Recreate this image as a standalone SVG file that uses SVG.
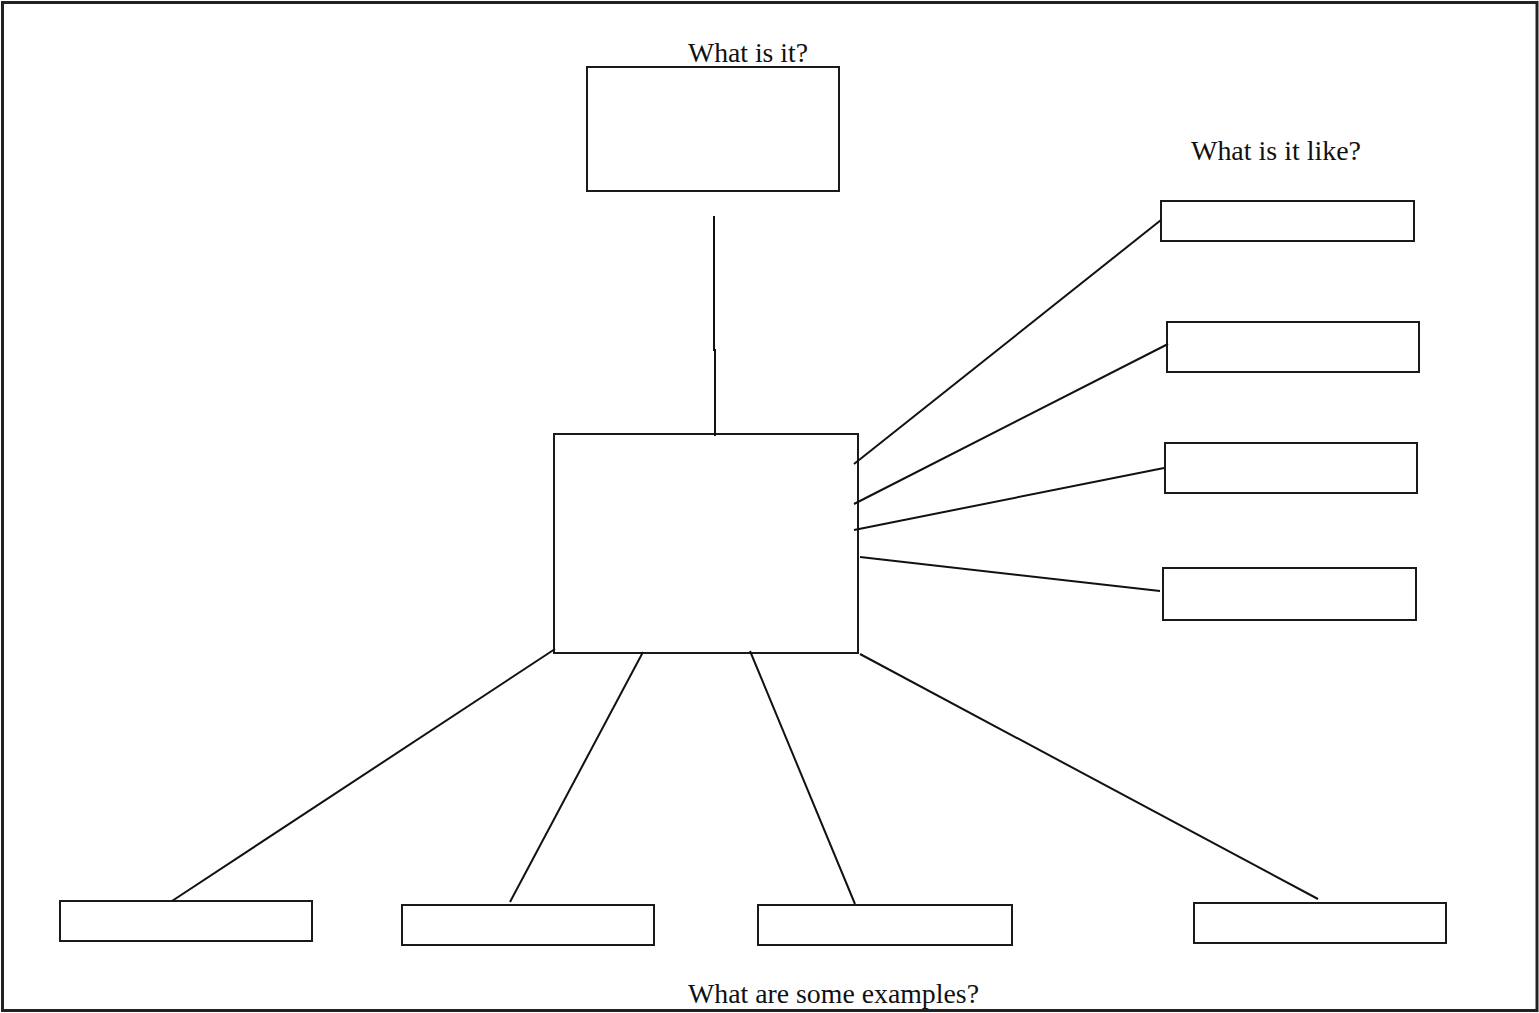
<svg xmlns="http://www.w3.org/2000/svg" width="1539" height="1013" viewBox="0 0 1539 1013">
<style>
.box{fill:#fff;stroke:#1a1a1a;stroke-width:2}
.con line,.con polyline{stroke:#111;stroke-width:2;fill:none}
.lbl{font-family:"Liberation Serif","Times New Roman",serif;font-size:27px;fill:#111}
</style>
<rect x="0" y="0" width="1539" height="1013" fill="#fff"/>
<rect x="2.5" y="2.5" width="1534.5" height="1008" fill="none" stroke="#222" stroke-width="3"/>
<text class="lbl" x="688" y="62" textLength="120" lengthAdjust="spacingAndGlyphs">What is it?</text>
<text class="lbl" x="1191" y="160" textLength="170" lengthAdjust="spacingAndGlyphs">What is it like?</text>
<text class="lbl" x="688" y="1003" textLength="291" lengthAdjust="spacingAndGlyphs">What are some examples?</text>
<g id="node-top"><rect class="box" x="587" y="67" width="252" height="124"/></g>
<g id="node-center"><rect class="box" x="554" y="434" width="304" height="219"/></g>
<g id="node-r1"><rect class="box" x="1161" y="201" width="253" height="40"/></g>
<g id="node-r2"><rect class="box" x="1167" y="322" width="252" height="50"/></g>
<g id="node-r3"><rect class="box" x="1165" y="443" width="252" height="50"/></g>
<g id="node-r4"><rect class="box" x="1163" y="568" width="253" height="52"/></g>
<g id="node-b1"><rect class="box" x="60" y="901" width="252" height="40"/></g>
<g id="node-b2"><rect class="box" x="402" y="905" width="252" height="40"/></g>
<g id="node-b3"><rect class="box" x="758" y="905" width="254" height="40"/></g>
<g id="node-b4"><rect class="box" x="1194" y="903" width="252" height="40"/></g>
<g id="connectors" class="con">
<polyline points="714,216 714,350 715,350 715,436"/>
<line x1="854" y1="464" x2="1161" y2="220"/>
<line x1="854" y1="504" x2="1168" y2="344"/>
<line x1="854" y1="530" x2="1164" y2="468"/>
<line x1="860" y1="557" x2="1160" y2="591"/>
<line x1="555" y1="649" x2="172" y2="901"/>
<line x1="643" y1="652" x2="510" y2="902"/>
<line x1="750" y1="651" x2="855" y2="904"/>
<line x1="860" y1="654" x2="1318" y2="899"/>
</g>
</svg>
